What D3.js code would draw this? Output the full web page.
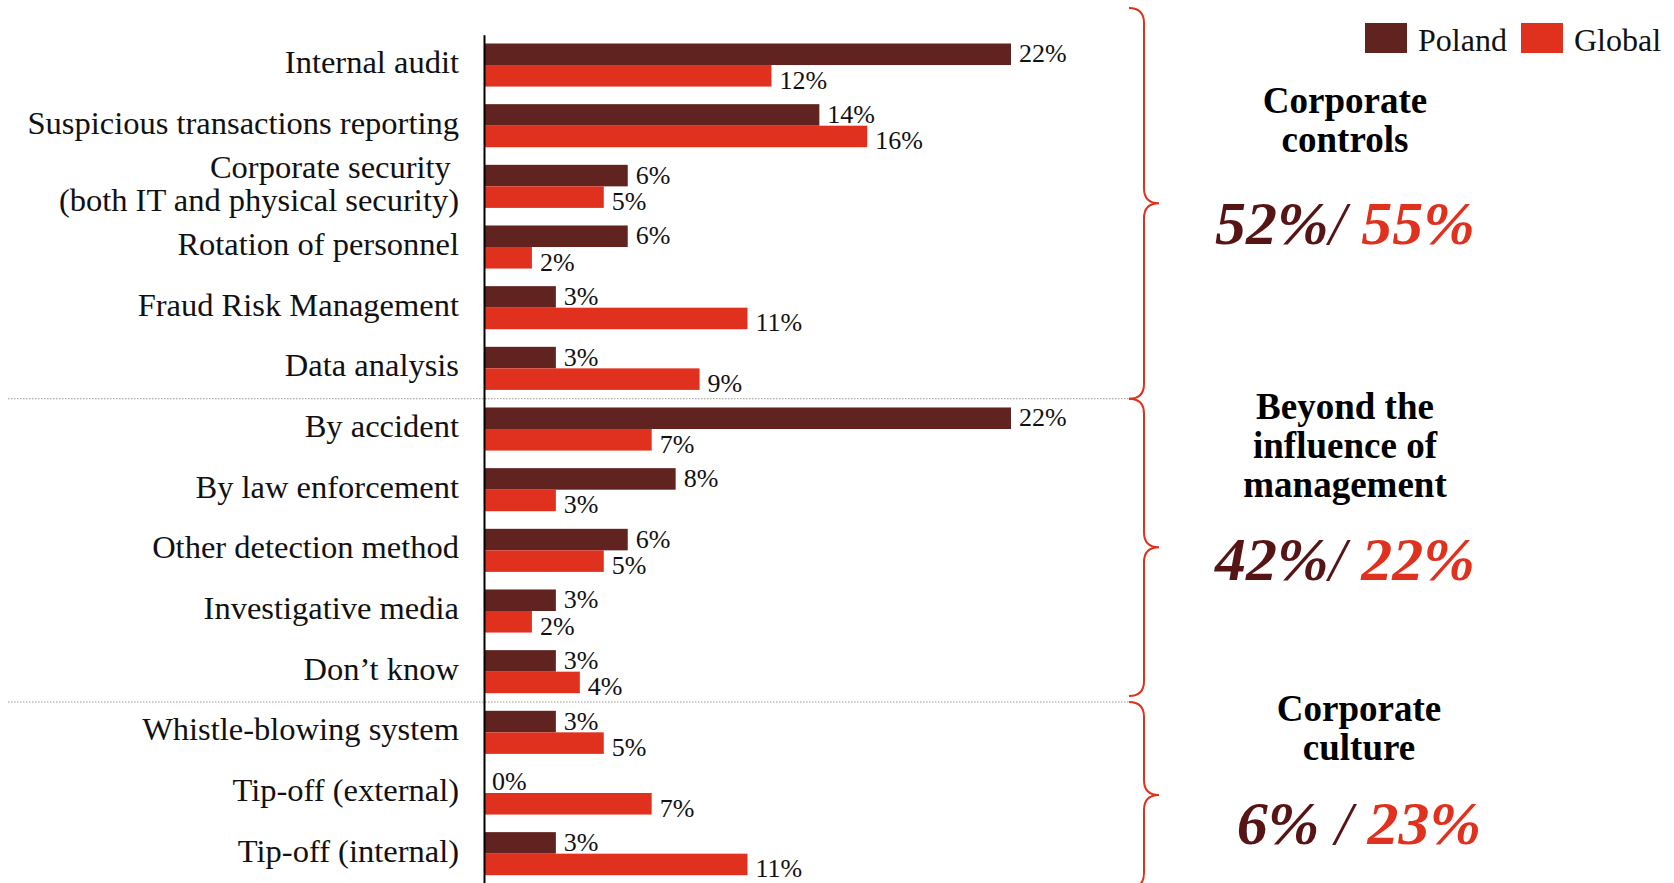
<!DOCTYPE html>
<html>
<head>
<meta charset="utf-8">
<script src="https://cdn.jsdelivr.net/npm/d3@7"></script>
<style>
  html, body { margin: 0; padding: 0; background: #fff; }
  svg { display: block; }
</style>
</head>
<body>
<div id="chart"></div>
<script>
// ---------- data ----------
const categories = [
  "Internal audit",
  "Suspicious transactions reporting",
  "Corporate security |(both IT and physical security)",
  "Rotation of personnel",
  "Fraud Risk Management",
  "Data analysis",
  "By accident",
  "By law enforcement",
  "Other detection method",
  "Investigative media",
  "Don\u2019t know",
  "Whistle-blowing system",
  "Tip-off (external)",
  "Tip-off (internal)"
];
const seriesNames = ["Poland", "Global"];
const polandValues = [22, 14, 6, 6, 3, 3, 22, 8, 6, 3, 3, 3, 0, 3];
const globalValues = [12, 16, 5, 2, 11, 9, 7, 3, 5, 2, 4, 5, 7, 11];

const groupTitles = [["Corporate", "controls"], ["Beyond the", "influence of", "management"], ["Corporate", "culture"]];
const groupFirst = [0, 6, 11];
const groupLast = [5, 10, 13];
const groupPoland = ["52%", "42%", "6%"];
const groupSeparators = ["/ ", "/ ", " / "];
const groupGlobal = ["55%", "22%", "23%"];

// ---------- style / layout ----------
const W = 1674, H = 883;
const colors = { Poland: "#602320", Global: "#E0301E" };
const darkText = "#561414";
const serif = "'Liberation Serif', 'Times New Roman', serif";

const svg = d3.select("#chart").append("svg")
  .attr("width", W).attr("height", H)
  .style("font-family", serif);

const x = d3.scaleLinear().domain([0, 22]).range([484, 1011]);
const y = d3.scaleBand().domain(d3.range(categories.length))
  .range([34.7, 884]).paddingInner(0.29).paddingOuter(0.145);
const ys = d3.scaleBand().domain(seriesNames).range([0, y.bandwidth()]);

const rows = categories.map((c, i) => ({ i, label: c, Poland: polandValues[i], Global: globalValues[i] }));

// separators (dotted)
const sepYs = [];
for (let g = 0; g < groupFirst.length - 1; g++) {
  const a = y(groupLast[g]) + y.bandwidth();
  const b = y(groupFirst[g + 1]);
  sepYs.push((a + b) / 2);
}
svg.append("g").selectAll("line").data(sepYs).join("line")
  .attr("x1", 8).attr("x2", 1129)
  .attr("y1", d => d).attr("y2", d => d)
  .attr("stroke", "#9a9a9a").attr("stroke-width", 1)
  .attr("stroke-dasharray", "1.5,1.5");

// bars
const rowG = svg.append("g").selectAll("g").data(rows).join("g")
  .attr("transform", d => `translate(0,${y(d.i)})`);

rowG.selectAll("rect").data(d => seriesNames.map(s => ({ s, v: d[s] }))).join("rect")
  .attr("x", x(0))
  .attr("y", d => ys(d.s))
  .attr("width", d => x(d.v) - x(0))
  .attr("height", ys.bandwidth())
  .attr("fill", d => colors[d.s]);

rowG.selectAll("text").data(d => seriesNames.map(s => ({ s, v: d[s] }))).join("text")
  .attr("x", d => x(d.v) + 8)
  .attr("y", d => ys(d.s) + ys.bandwidth() / 2 + (d.s === "Poland" ? 8 : 13))
  .attr("font-size", 26)
  .attr("fill", "#111")
  .text(d => d.v + "%");

// axis with category labels
const axisG = svg.append("g")
  .attr("transform", `translate(${x(0)},0)`)
  .call(d3.axisLeft(y).tickSize(0).tickSizeOuter(0).tickPadding(25).tickFormat(i => categories[i]));
axisG.select(".domain").attr("stroke", "#000").attr("stroke-width", 2);
axisG.selectAll(".tick text")
  .attr("font-family", serif)
  .attr("font-size", 32.5)
  .attr("fill", "#111")
  .attr("dy", null)
  .each(function (i) {
    const t = d3.select(this);
    const lines = categories[i].split("|");
    t.text(null);
    const lh = 33;
    lines.forEach((ln, k) => {
      t.append("tspan")
        .attr("x", -25)
        .attr("y", 8 - lh / 2 * (lines.length - 1) + k * lh)
        .style("white-space", "pre")
        .text(ln);
    });
  });

// legend
const legendX = [1365, 1521];
const lg = svg.append("g").selectAll("g").data(seriesNames).join("g")
  .attr("transform", (d, i) => `translate(${legendX[i]},23)`);
lg.append("rect").attr("width", 42).attr("height", 30).attr("fill", d => colors[d]);
lg.append("text").attr("x", 53).attr("y", 28).attr("font-size", 32).attr("fill", "#111").text(d => d);

// braces + group annotations
const braceRanges = [
  [8, sepYs[0]],
  [sepYs[0], sepYs[1] - 6],
  [sepYs[1], 888]
];
const bx = 1144, bl = 1129, br = 1159, r = 15;
function bracePath(y0, y1) {
  const ym = (y0 + y1) / 2;
  return `M${bl},${y0} Q${bx},${y0} ${bx},${y0 + r} L${bx},${ym - r} Q${bx},${ym} ${br},${ym}` +
         ` Q${bx},${ym} ${bx},${ym + r} L${bx},${y1 - r} Q${bx},${y1} ${bl},${y1}`;
}
svg.append("g").selectAll("path").data(braceRanges).join("path")
  .attr("d", d => bracePath(d[0], d[1]))
  .attr("fill", "none").attr("stroke", colors.Global).attr("stroke-width", 2);

const titleX = [1345, 1345, 1359];
const titleLastDy = [-51, -50, -35];
const pctDy = [41, 33, 49];
groupTitles.forEach((lines, g) => {
  const ym = (braceRanges[g][0] + braceRanges[g][1]) / 2;
  const t = svg.append("text")
    .attr("text-anchor", "middle")
    .attr("font-size", 37).attr("font-weight", "bold").attr("fill", "#000");
  lines.forEach((ln, k) => {
    t.append("tspan").attr("x", titleX[g])
      .attr("y", ym + titleLastDy[g] - (lines.length - 1 - k) * 39)
      .text(ln);
  });
  const p = svg.append("text")
    .attr("x", titleX[g]).attr("y", ym + pctDy[g])
    .attr("text-anchor", "middle")
    .attr("font-size", 62).attr("font-weight", "bold").attr("font-style", "italic")
    .style("white-space", "pre");
  p.append("tspan").attr("fill", darkText).text(groupPoland[g]);
  p.append("tspan").attr("fill", darkText).attr("font-weight", "normal").text(groupSeparators[g]);
  p.append("tspan").attr("fill", colors.Global).text(groupGlobal[g]);
});
</script>
</body>
</html>
